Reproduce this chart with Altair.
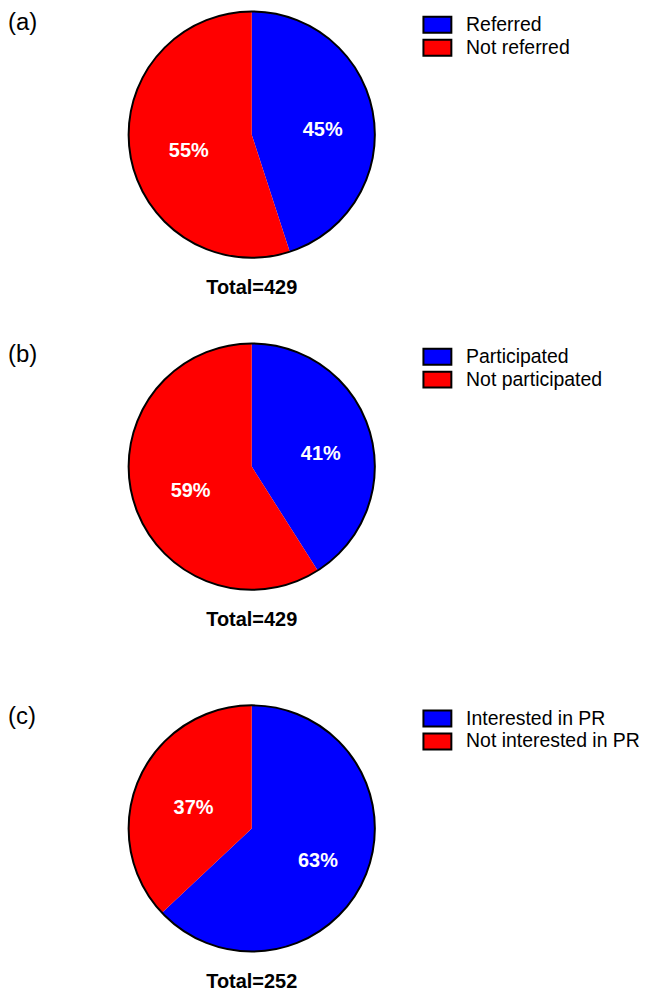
import altair as alt
import pandas as pd

# ---- data ----
panel_tags = ["(a)", "(b)", "(c)"]
panel_totals = [429, 429, 252]

cats_a = ["Referred", "Not referred"]
pct_a = [45, 55]
cats_b = ["Participated", "Not participated"]
pct_b = [41, 59]
cats_c = ["Interested in PR", "Not interested in PR"]
pct_c = [63, 37]

slice_colors = ["#0000FF", "#FF0000"]
panel_offsets = [0, 333, 696]

FONT = "Liberation Sans"
CX, CY, R = 244.5, 125.5, 123.5


def make_panel(tag, total, cats, pcts, off):
    df = pd.DataFrame({"category": cats, "pct": pcts, "idx": list(range(len(cats)))})
    info = pd.DataFrame({"tag": [tag], "total": [f"Total={total}"]})
    base = alt.Chart(df)
    cy = CY + off

    color = alt.Color(
        "category:N",
        scale=alt.Scale(domain=cats, range=slice_colors),
        legend=alt.Legend(
            title=None,
            orient="none",
            legendX=421,
            legendY=5.5 + off,
            symbolType="M-1.75,-1H1.75V1H-1.75Z",
            symbolSize=256,
            symbolStrokeColor="black",
            symbolStrokeWidth=2,
            symbolOpacity=1,
            labelFont=FONT,
            labelFontSize=19.5,
            labelColor="black",
            labelOffset=19,
            labelLimit=400,
            rowPadding=-2,
            padding=0,
        ),
    )

    arcs = base.mark_arc(outerRadius=R).encode(
        theta=alt.Theta("pct:Q", stack=True),
        color=color,
        order=alt.Order("idx:Q"),
        x=alt.value(CX),
        y=alt.value(cy),
    )

    rim = base.transform_filter("datum.idx == 0").mark_arc(
        theta=0, theta2=6.2832, outerRadius=R, fillOpacity=0,
        stroke="black", strokeWidth=2, strokeJoin="round",
    ).encode(x=alt.value(CX), y=alt.value(cy))

    labels = base.transform_calculate(label="datum.pct + '%'").mark_text(
        radius=68, dx=4, dy=6, font=FONT, fontSize=20, fontWeight="bold",
        color="white",
    ).encode(
        theta=alt.Theta("pct:Q", stack=True),
        order=alt.Order("idx:Q"),
        detail="category:N",
        text="label:N",
        x=alt.value(CX),
        y=alt.value(cy),
    )

    tag_text = alt.Chart(info).mark_text(
        align="left", baseline="middle", font=FONT, fontSize=24, color="black"
    ).encode(x=alt.value(0), y=alt.value(14 + off), text="tag:N")

    total_text = alt.Chart(info).mark_text(
        align="center", baseline="middle", font=FONT, fontSize=20,
        fontWeight="bold", color="black"
    ).encode(x=alt.value(CX), y=alt.value(279.5 + off), text="total:N")

    return [arcs, rim, labels, tag_text, total_text]


layers = (
    make_panel(panel_tags[0], panel_totals[0], cats_a, pct_a, panel_offsets[0])
    + make_panel(panel_tags[1], panel_totals[1], cats_b, pct_b, panel_offsets[1])
    + make_panel(panel_tags[2], panel_totals[2], cats_c, pct_c, panel_offsets[2])
)

chart = (
    alt.layer(*layers)
    .resolve_scale(color="independent", theta="independent")
    .resolve_legend(color="independent")
    .properties(width=633, height=977, padding=0)
    .configure_view(strokeWidth=0)
)

chart.save("out.html", embed_options={"renderer": "svg", "actions": False})
